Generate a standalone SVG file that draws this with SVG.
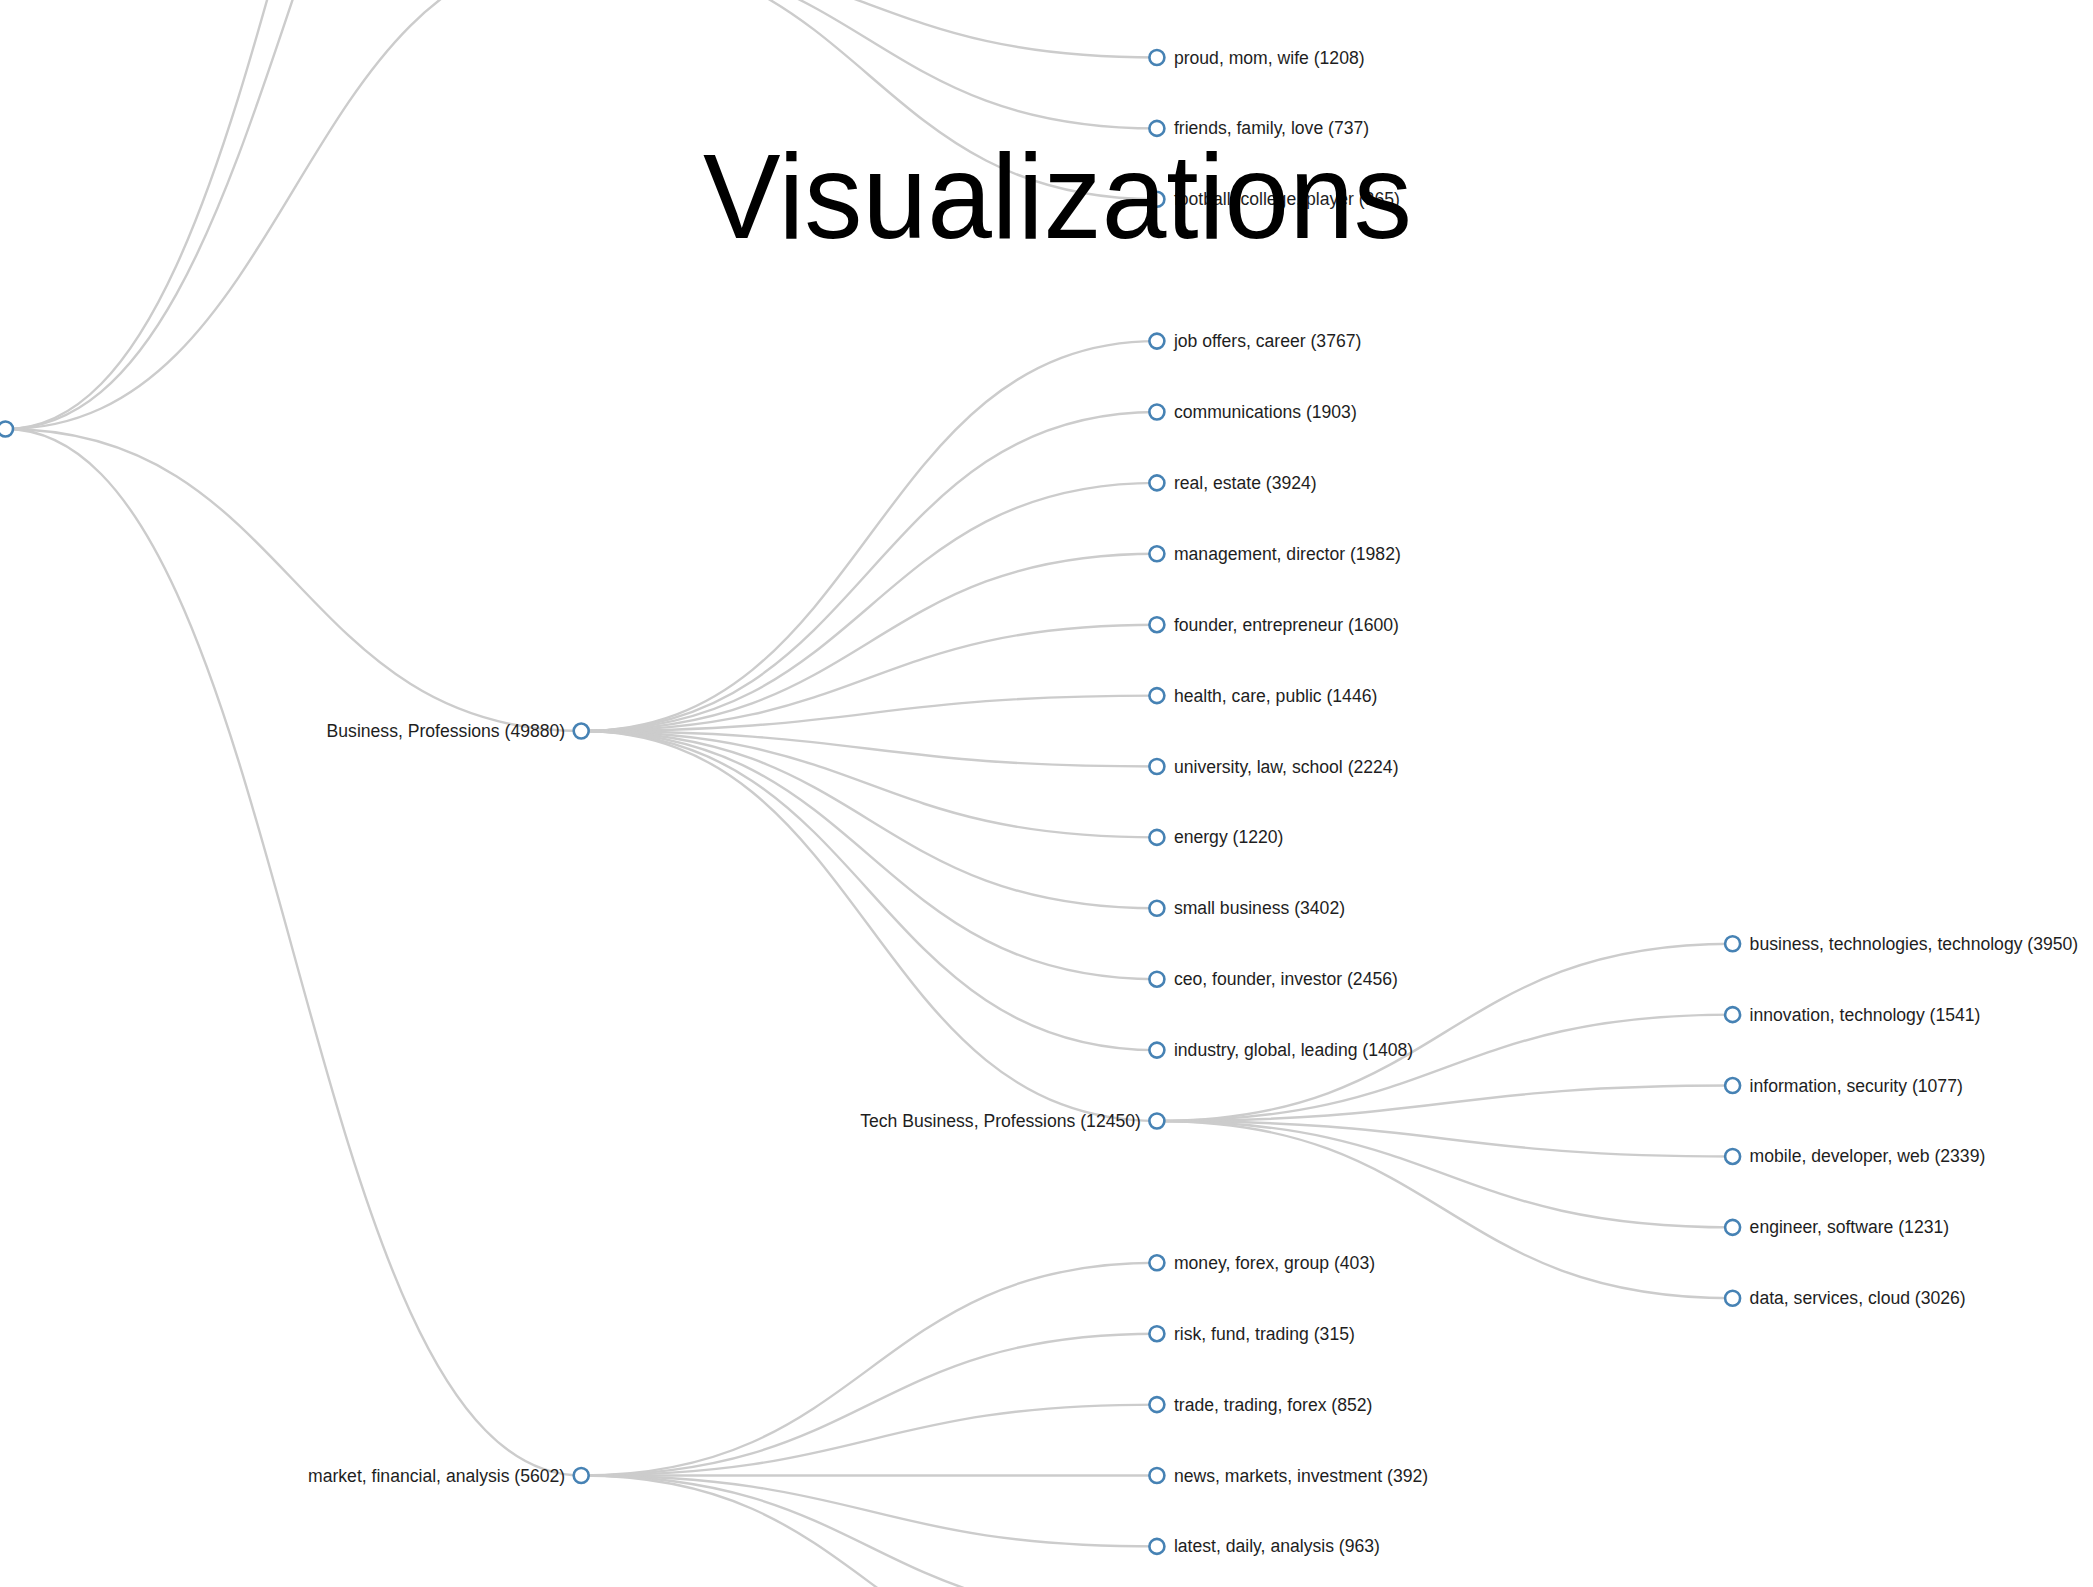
<svg xmlns="http://www.w3.org/2000/svg" width="2093" height="1587" viewBox="0 0 2093 1587">
<style>
.link{fill:none;stroke:#cccccc;stroke-width:2.4}
.node circle{fill:#ffffff;stroke:#4682b4;stroke-width:2.6}
.node text{font-family:"Liberation Sans",Arial,sans-serif;font-size:17.6px;fill:#1e1e1e}
.leaf text{text-anchor:start}
.inner text{text-anchor:end}
.title{font-family:"Liberation Sans",Arial,sans-serif;font-size:120px;fill:#000000}
</style>
<rect x="0" y="0" width="2093" height="1587" fill="#ffffff"/>
<g id="connectors">
<path class="link" d="M5.5,429C293.35,429 293.35,-617.5 581.2,-617.5"/>
<path class="link" d="M5.5,429C293.35,429 293.35,-434 581.2,-434"/>
<path class="link" d="M5.5,429C293.35,429 293.35,-48.85 581.2,-48.85"/>
<path class="link" d="M5.5,429C293.35,429 293.35,731.05 581.2,731.05"/>
<path class="link" d="M5.5,429C293.35,429 293.35,1475.5 581.2,1475.5"/>
<path class="link" d="M581.2,-48.85C869.05,-48.85 869.05,57.5 1156.9,57.5"/>
<path class="link" d="M581.2,-48.85C869.05,-48.85 869.05,128.4 1156.9,128.4"/>
<path class="link" d="M581.2,-48.85C869.05,-48.85 869.05,199.3 1156.9,199.3"/>
<path class="link" d="M581.2,731.05C869.05,731.05 869.05,341.1 1156.9,341.1"/>
<path class="link" d="M581.2,731.05C869.05,731.05 869.05,412 1156.9,412"/>
<path class="link" d="M581.2,731.05C869.05,731.05 869.05,482.9 1156.9,482.9"/>
<path class="link" d="M581.2,731.05C869.05,731.05 869.05,553.8 1156.9,553.8"/>
<path class="link" d="M581.2,731.05C869.05,731.05 869.05,624.7 1156.9,624.7"/>
<path class="link" d="M581.2,731.05C869.05,731.05 869.05,695.6 1156.9,695.6"/>
<path class="link" d="M581.2,731.05C869.05,731.05 869.05,766.5 1156.9,766.5"/>
<path class="link" d="M581.2,731.05C869.05,731.05 869.05,837.4 1156.9,837.4"/>
<path class="link" d="M581.2,731.05C869.05,731.05 869.05,908.3 1156.9,908.3"/>
<path class="link" d="M581.2,731.05C869.05,731.05 869.05,979.2 1156.9,979.2"/>
<path class="link" d="M581.2,731.05C869.05,731.05 869.05,1050.1 1156.9,1050.1"/>
<path class="link" d="M581.2,731.05C869.05,731.05 869.05,1121 1156.9,1121"/>
<path class="link" d="M1156.9,1121C1444.75,1121 1444.75,943.75 1732.6,943.75"/>
<path class="link" d="M1156.9,1121C1444.75,1121 1444.75,1014.65 1732.6,1014.65"/>
<path class="link" d="M1156.9,1121C1444.75,1121 1444.75,1085.55 1732.6,1085.55"/>
<path class="link" d="M1156.9,1121C1444.75,1121 1444.75,1156.45 1732.6,1156.45"/>
<path class="link" d="M1156.9,1121C1444.75,1121 1444.75,1227.35 1732.6,1227.35"/>
<path class="link" d="M1156.9,1121C1444.75,1121 1444.75,1298.25 1732.6,1298.25"/>
<path class="link" d="M581.2,1475.5C869.05,1475.5 869.05,1262.8 1156.9,1262.8"/>
<path class="link" d="M581.2,1475.5C869.05,1475.5 869.05,1333.7 1156.9,1333.7"/>
<path class="link" d="M581.2,1475.5C869.05,1475.5 869.05,1404.6 1156.9,1404.6"/>
<path class="link" d="M581.2,1475.5C869.05,1475.5 869.05,1475.5 1156.9,1475.5"/>
<path class="link" d="M581.2,1475.5C869.05,1475.5 869.05,1546.4 1156.9,1546.4"/>
<path class="link" d="M581.2,1475.5C869.05,1475.5 869.05,1617.3 1156.9,1617.3"/>
<path class="link" d="M581.2,1475.5C869.05,1475.5 869.05,1688.2 1156.9,1688.2"/>
</g>
<g id="root" class="node inner" transform="translate(5.5,429)"><circle r="7.5"/></g>
<g id="n-proud" class="node leaf" transform="translate(1156.9,57.5)"><circle r="7.5"/><text x="17" y="6">proud, mom, wife (1208)</text></g>
<g id="n-friends" class="node leaf" transform="translate(1156.9,128.4)"><circle r="7.5"/><text x="17" y="6">friends, family, love (737)</text></g>
<g id="n-football" class="node leaf" transform="translate(1156.9,199.3)"><circle r="7.5"/><text x="17" y="6">football, college, player (365)</text></g>
<g id="n-business" class="node inner" transform="translate(581.2,731.05)"><circle r="7.5"/><text x="-16" y="6">Business, Professions (49880)</text></g>
<g id="n-job" class="node leaf" transform="translate(1156.9,341.1)"><circle r="7.5"/><text x="17" y="6">job offers, career (3767)</text></g>
<g id="n-comm" class="node leaf" transform="translate(1156.9,412)"><circle r="7.5"/><text x="17" y="6">communications (1903)</text></g>
<g id="n-real" class="node leaf" transform="translate(1156.9,482.9)"><circle r="7.5"/><text x="17" y="6">real, estate (3924)</text></g>
<g id="n-mgmt" class="node leaf" transform="translate(1156.9,553.8)"><circle r="7.5"/><text x="17" y="6">management, director (1982)</text></g>
<g id="n-founder" class="node leaf" transform="translate(1156.9,624.7)"><circle r="7.5"/><text x="17" y="6">founder, entrepreneur (1600)</text></g>
<g id="n-health" class="node leaf" transform="translate(1156.9,695.6)"><circle r="7.5"/><text x="17" y="6">health, care, public (1446)</text></g>
<g id="n-univ" class="node leaf" transform="translate(1156.9,766.5)"><circle r="7.5"/><text x="17" y="6">university, law, school (2224)</text></g>
<g id="n-energy" class="node leaf" transform="translate(1156.9,837.4)"><circle r="7.5"/><text x="17" y="6">energy (1220)</text></g>
<g id="n-small" class="node leaf" transform="translate(1156.9,908.3)"><circle r="7.5"/><text x="17" y="6">small business (3402)</text></g>
<g id="n-ceo" class="node leaf" transform="translate(1156.9,979.2)"><circle r="7.5"/><text x="17" y="6">ceo, founder, investor (2456)</text></g>
<g id="n-industry" class="node leaf" transform="translate(1156.9,1050.1)"><circle r="7.5"/><text x="17" y="6">industry, global, leading (1408)</text></g>
<g id="n-tech" class="node inner" transform="translate(1156.9,1121)"><circle r="7.5"/><text x="-16" y="6">Tech Business, Professions (12450)</text></g>
<g id="n-bizTech" class="node leaf" transform="translate(1732.6,943.75)"><circle r="7.5"/><text x="17" y="6">business, technologies, technology (3950)</text></g>
<g id="n-innov" class="node leaf" transform="translate(1732.6,1014.65)"><circle r="7.5"/><text x="17" y="6">innovation, technology (1541)</text></g>
<g id="n-info" class="node leaf" transform="translate(1732.6,1085.55)"><circle r="7.5"/><text x="17" y="6">information, security (1077)</text></g>
<g id="n-mobile" class="node leaf" transform="translate(1732.6,1156.45)"><circle r="7.5"/><text x="17" y="6">mobile, developer, web (2339)</text></g>
<g id="n-engineer" class="node leaf" transform="translate(1732.6,1227.35)"><circle r="7.5"/><text x="17" y="6">engineer, software (1231)</text></g>
<g id="n-data" class="node leaf" transform="translate(1732.6,1298.25)"><circle r="7.5"/><text x="17" y="6">data, services, cloud (3026)</text></g>
<g id="n-market" class="node inner" transform="translate(581.2,1475.5)"><circle r="7.5"/><text x="-16" y="6">market, financial, analysis (5602)</text></g>
<g id="n-money" class="node leaf" transform="translate(1156.9,1262.8)"><circle r="7.5"/><text x="17" y="6">money, forex, group (403)</text></g>
<g id="n-risk" class="node leaf" transform="translate(1156.9,1333.7)"><circle r="7.5"/><text x="17" y="6">risk, fund, trading (315)</text></g>
<g id="n-trade" class="node leaf" transform="translate(1156.9,1404.6)"><circle r="7.5"/><text x="17" y="6">trade, trading, forex (852)</text></g>
<g id="n-news" class="node leaf" transform="translate(1156.9,1475.5)"><circle r="7.5"/><text x="17" y="6">news, markets, investment (392)</text></g>
<g id="n-latest" class="node leaf" transform="translate(1156.9,1546.4)"><circle r="7.5"/><text x="17" y="6">latest, daily, analysis (963)</text></g>
<text class="title" x="703" y="238" textLength="709" lengthAdjust="spacingAndGlyphs">Visualizations</text>
</svg>
